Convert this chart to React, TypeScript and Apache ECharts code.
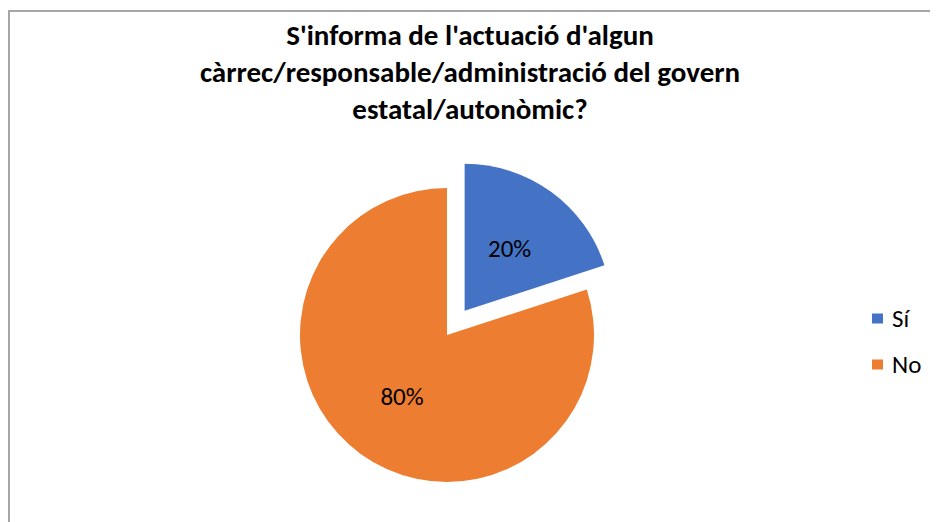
import React, { useEffect, useRef } from "react";
import * as echarts from "echarts";

const titleLines = [
  "S'informa de l'actuació d'algun",
  "càrrec/responsable/administració del govern",
  "estatal/autonòmic?",
];
const categories = ["Sí", "No"];
const values = [20, 80];
const colors = ["#4472C4", "#ED7D31"];

const FONT = "Carlito, Lato, sans-serif";

export default function App() {
  const ref = useRef<HTMLDivElement>(null);
  useEffect(() => {
    if (!ref.current) return;
    document.documentElement.style.overflow = "hidden";
    document.body.style.overflow = "hidden";
    const chart = echarts.init(ref.current, null, { renderer: "svg" });
    chart.setOption({
      animation: false,
      backgroundColor: "#ffffff",
      graphic: [
        {
          type: "line",
          shape: { x1: 1, y1: 3, x2: 1, y2: 1200 },
          style: { stroke: "#a6a6a6", lineWidth: 2 },
          silent: true,
        },
        {
          type: "line",
          shape: { x1: 0, y1: 3, x2: 1200, y2: 3 },
          style: { stroke: "#a6a6a6", lineWidth: 2 },
          silent: true,
        },
      ],
      title: {
        text: titleLines.join("\n"),
        left: 462,
        textAlign: "center",
        top: 8.5,
        padding: 0,
        textStyle: {
          fontFamily: FONT,
          fontWeight: "bold",
          fontSize: 29,
          lineHeight: 37,
          color: "#000000",
        },
      },
      legend: {
        orient: "vertical",
        left: 859,
        top: 293,
        icon: "rect",
        itemWidth: 11,
        itemHeight: 10,
        itemGap: 21,
        selectedMode: false,
        textStyle: {
          fontFamily: FONT,
          fontSize: 25,
          color: "#000000",
          padding: [0, 0, 0, 4],
        },
        data: categories,
      },
      series: [
        {
          type: "pie",
          center: [439, 327],
          radius: [0, 147],
          startAngle: 90,
          clockwise: true,
          selectedMode: "single",
          selectedOffset: 30,
          label: {
            show: true,
            position: "inside",
            formatter: "{d}%",
            fontFamily: FONT,
            fontSize: 25,
            color: "#000000",
          },
          labelLine: { show: false },
          emphasis: { disabled: true },
          itemStyle: { borderWidth: 0 },
          data: categories.map((c, i) => ({
            name: c,
            value: values[i],
            selected: i === 0,
            itemStyle: { color: colors[i] },
          })),
        },
      ],
    });
    return () => chart.dispose();
  }, []);
  return <div ref={ref} style={{ width: 930, height: 514 }} />;
}
